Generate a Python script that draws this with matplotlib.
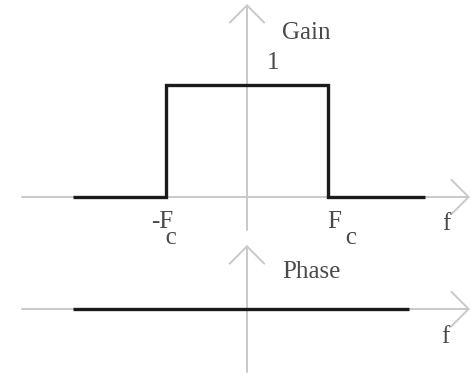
import matplotlib
matplotlib.use("Agg")
import matplotlib.pyplot as plt

# Ideal low-pass filter: gain and phase versus frequency (Fc = 1)
fc = 1.0
gain_freq = [-2.15, -fc, -fc, fc, fc, 2.2]
gain_vals = [0, 0, 1, 1, 0, 0]
phase_freq = [-2.15, 2.0]
phase_vals = [0, 0]
passband_gain_label = "1"

W, H = 471, 373
PX_X = 81.0   # pixels per frequency unit
PX_Y = 112.0  # pixels per gain unit
X0 = 247      # pixel column of f = 0

AXIS_GRAY = "#c9c9c9"
TEXT_GRAY = "#4a4a4a"
LINE_BLACK = "#1b1b1b"
FONT = "Liberation Serif"
FS = 18

fig = plt.figure(figsize=(W / 100, H / 100), dpi=100)
fig.patch.set_facecolor("white")

xlim = (-X0 / PX_X, (W - X0) / PX_X)

# gain panel: rows 0..240 px, zero line at 197 px
ax_g = fig.add_axes([0, (H - 240) / H, 1, 240 / H])
ax_g.set_xlim(*xlim)
ax_g.set_ylim((197 - 240) / PX_Y, 197 / PX_Y)

# phase panel: rows 240..373 px, zero line at 309 px
ax_p = fig.add_axes([0, 0, 1, (H - 240) / H])
ax_p.set_xlim(*xlim)
ax_p.set_ylim(-(H - 309) / PX_Y, (309 - 240) / PX_Y)

for ax in (ax_g, ax_p):
    ax.set_axis_off()

arrow_kw = dict(arrowstyle="->,head_length=0.62,head_width=0.62",
                color=AXIS_GRAY, lw=1.4, shrinkA=0, shrinkB=0,
                mutation_scale=20)

x_left = 22 / PX_X - X0 / PX_X
x_tip = 470 / PX_X - X0 / PX_X

# axes of the gain panel
ax_g.annotate("", xy=(x_tip, 0), xytext=(x_left, 0), arrowprops=arrow_kw,
              annotation_clip=False)
ax_g.annotate("", xy=(0, (197 - 4) / PX_Y), xytext=(0, (197 - 230) / PX_Y),
              arrowprops=arrow_kw, annotation_clip=False)

# axes of the phase panel
ax_p.annotate("", xy=(x_tip, 0), xytext=(x_left, 0), arrowprops=arrow_kw,
              annotation_clip=False)
ax_p.annotate("", xy=(0, (309 - 245) / PX_Y), xytext=(0, -(372 - 309) / PX_Y),
              arrowprops=arrow_kw, annotation_clip=False)

# responses
ax_g.plot(gain_freq, gain_vals, color=LINE_BLACK, lw=2.4,
          solid_joinstyle="miter", solid_capstyle="butt", zorder=3)
ax_p.plot(phase_freq, phase_vals, color=LINE_BLACK, lw=2.4,
          solid_capstyle="butt", zorder=3)

txt = dict(fontfamily=FONT, fontsize=FS, color=TEXT_GRAY,
           textcoords="offset pixels", va="baseline", ha="left",
           annotation_clip=False)

top_g = ax_g.get_ylim()[1]
ax_g.annotate("Gain", xy=(0, top_g), xytext=(35, -39), **txt)
ax_g.annotate(passband_gain_label, xy=(0, max(gain_vals)), xytext=(20, 16), **txt)

# cutoff labels: "F" with a lowered "c" beneath its right side
cut_txt = dict(txt, va="top", multialignment="left", linespacing=0.62)
ax_g.annotate("-F\n  \u200ac", xy=(-fc, 0), xytext=(-15, -14), **cut_txt)
ax_g.annotate("F\n   c", xy=(fc, 0), xytext=(-1, -14), **cut_txt)
ax_g.annotate("f", xy=(x_tip, 0), xytext=(-28, -33), **txt)

ax_p.annotate("Phase", xy=(0, 0), xytext=(35, 31), **txt)
ax_p.annotate("f", xy=(x_tip, 0), xytext=(-29, -34), **txt)

fig.savefig("out.png", dpi=100, facecolor="white")
